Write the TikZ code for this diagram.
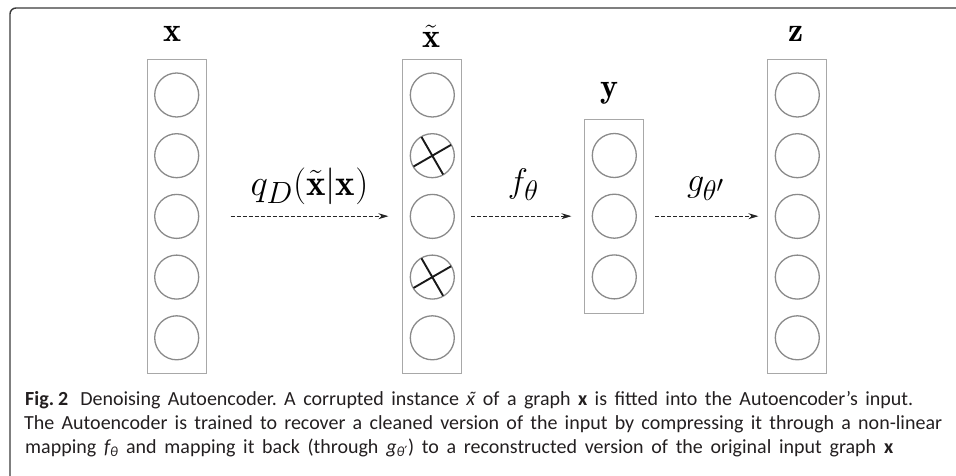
\documentclass[tikz,border=0pt]{standalone}
\usepackage{fontspec}
\newfontfamily\capfont{Carlito}
\newfontfamily\primefont{DejaVu Sans}
\usetikzlibrary{positioning,calc,arrows.meta}
\definecolor{aeUnitLine}{HTML}{8A8A8A}
\definecolor{aeBoxLine}{HTML}{A8A8A8}
\definecolor{aeFrameLine}{HTML}{3A3A3A}
\definecolor{aeText}{HTML}{231F20}
\tikzset{
  layer box/.style={
    draw=aeBoxLine, line width=0.9pt,
    minimum width=59pt, inner sep=0pt,
  },
  unit/.style={
    circle, draw=aeUnitLine, line width=1.3pt,
    minimum size=44pt, inner sep=0pt,
  },
  noise cross/.style={
    draw=black!90, line width=1.9pt,
    shorten >=1pt, shorten <=1pt,
  },
  map arrow/.style={
    -{Stealth[length=10pt, width=6pt]},
    line width=0.8pt, dash pattern=on 4pt off 2pt,
    draw=black!85,
  },
  vec label/.style={font=\Huge, scale=1.37, transform shape, inner sep=0pt},
  cap line/.style={font=\capfont\fontsize{20}{24}\selectfont\frenchspacing, color=aeText,
    anchor=base west, inner sep=0pt},
}
% italic x with tilde, and theta-prime, for the caption
\newcommand{\capxt}{{\itshape\rlap{x}\makebox[0.45em]{\hspace{0.12em}˜}}}
\newcommand{\capprime}{{\primefont\upshape ′}}

\begin{document}
\begin{tikzpicture}[x=1pt, y=-1pt]
\useasboundingbox (0,0) rectangle (956,476);

% Open frame (top and left edge)
\draw[aeFrameLine, line width=1.4pt, rounded corners=6pt]
  (10,476) -- (10,8) -- (956,8);

% Layer boxes
\node[layer box, minimum height=314pt] (xbox)  at (176.7, 216.2) {};
\node[layer box, minimum height=314pt] (xtbox) at (432.3, 216.2) {};
\node[layer box, minimum height=194pt] (ybox)  at (614.3, 216.2) {};
\node[layer box, minimum height=314pt] (zbox)  at (797.3, 216.2) {};

% Units (5 per outer layer, 3 in the code layer)
\foreach \i in {1,...,5} {
  \pgfmathsetmacro\uy{95 + 60.7*(\i-1)}
  \node[unit] (x\i)  at (176.7, \uy) {};
  \node[unit] (xt\i) at (432.3, \uy) {};
  \node[unit] (z\i)  at (797.3, \uy) {};
}
\foreach \i in {1,...,3} {
  \pgfmathsetmacro\uy{155.5 + 60.7*(\i-1)}
  \node[unit] (y\i) at (614.3, \uy) {};
}

% Corrupted units of x tilde
\foreach \c in {xt2, xt4} {
  \draw[noise cross] (\c.30) -- (\c.210);
  \draw[noise cross] (\c.120) -- (\c.300);
}

% Layer labels
\node[vec label, anchor=base] (xlab)  at (172, 42) {$\mathbf{x}$};
\node[vec label, anchor=base] (xtlab) at (431, 48) {$\tilde{\mathbf{x}}$};
\node[vec label, anchor=base] (ylab)  at (609, 98) {$\mathbf{y}$};
\node[vec label, anchor=base] (zlab)  at (796, 42) {$\mathbf{z}$};

% Mappings
\draw[map arrow, shorten <=24pt, shorten >=14pt] (xbox.east) -- (xtbox.west)
  node[midway, above=11pt, xshift=5pt, vec label, scale=1.08] {$q_D(\tilde{\mathbf{x}}|\mathbf{x})$};
\draw[map arrow, shorten <=9pt, shorten >=13pt] (xtbox.east) -- (ybox.west)
  node[midway, above=15pt, vec label] {$f_\theta$};
\draw[map arrow, shorten <=11pt, shorten >=9pt] (ybox.east) -- (zbox.west)
  node[midway, above=15pt, vec label] {$g_{\theta'}$};

% Caption
\node[cap line] (cap1) at (25, 405) {\makebox[888pt][s]{\textbf{Fig.\hspace{0.2em}2}\hspace{0.6em}Denoising Autoencoder. A corrupted instance \capxt{} of a graph \textbf{x} is fitted into the Autoencoder’s input.}};
\node[cap line] (cap2) at (24, 429) {\makebox[918pt][s]{The Autoencoder is trained to recover a cleaned version of the input by compressing it through a non-linear}};
\node[cap line] (cap3) at (25, 453) {\makebox[868pt][s]{mapping {\itshape f}\textsubscript{\itshape θ} and mapping it back (through {\itshape g}\textsubscript{\itshape θ\capprime}) to a reconstructed version of the original input graph \textbf{x}}};

\end{tikzpicture}
\end{document}
